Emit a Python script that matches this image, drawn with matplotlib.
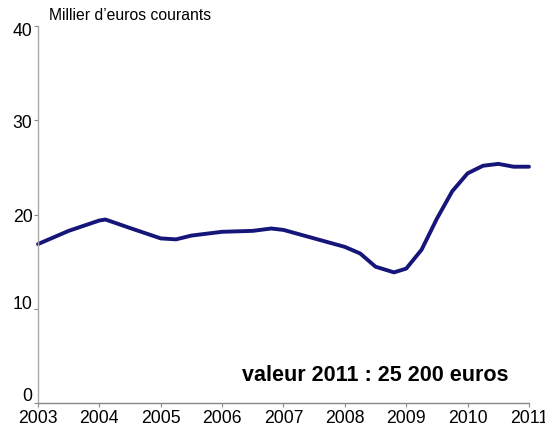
import matplotlib
matplotlib.use("Agg")
import matplotlib.pyplot as plt
import matplotlib.transforms as mtransforms

plt.rcParams['font.family'] = ['Liberation Sans', 'DejaVu Sans']

# revenu, milliers d'euros courants
years = [2003.0, 2003.5, 2004.0, 2004.1, 2004.5, 2005.0, 2005.25, 2005.5,
         2006.0, 2006.5, 2006.8, 2007.0, 2007.5, 2008.0, 2008.25, 2008.5,
         2008.8, 2009.0, 2009.25, 2009.5, 2009.75, 2010.0, 2010.25, 2010.5,
         2010.75, 2011.0]
values = [16.9, 18.3, 19.4, 19.5, 18.6, 17.5, 17.4, 17.8,
          18.2, 18.3, 18.55, 18.4, 17.5, 16.6, 15.9, 14.5,
          13.9, 14.3, 16.3, 19.6, 22.5, 24.4, 25.2, 25.4,
          25.1, 25.1]

xticks = [2003, 2004, 2005, 2006, 2007, 2008, 2009, 2010, 2011]
yticks = [0, 10, 20, 30, 40]
ylabel_shift = [10, 8, 0, 0, -2]  # px, labels sit a bit above their ticks

fig = plt.figure(figsize=(5.45, 4.31), dpi=100)
ax = fig.add_axes([0.0697, 0.0615, 0.9009, 0.8755])

ax.plot(years, values, color="#15157a", lw=2.8, solid_joinstyle="round",
        solid_capstyle="round", clip_on=False)

ax.set_xlim(2003, 2011)
ax.set_ylim(0, 40)
ax.set_xticks(xticks)
ax.set_yticks(yticks)
ax.tick_params(labelsize=12.7, length=3, width=0.8, color="#888888", pad=1)
for lab, dy in zip(ax.get_yticklabels(), ylabel_shift):
    lab.set_transform(lab.get_transform() +
                      mtransforms.ScaledTranslation(0, dy / 100, fig.dpi_scale_trans))
for s in ["top", "right"]:
    ax.spines[s].set_visible(False)
ax.spines["left"].set_color("#aaaaaa")
ax.spines["bottom"].set_color("#888888")
ax.spines["left"].set_linewidth(1.0)
ax.spines["bottom"].set_linewidth(1.0)

ax.text(2003.18, 40.4, "Millier d\u2019euros courants", fontsize=11.3,
        ha="left", va="bottom")
ax.text(2008.5, 3.1, "valeur 2011 : 25 200 euros", fontsize=15.5,
        fontweight="bold", ha="center", va="center")

fig.savefig("out.png", dpi=100)
